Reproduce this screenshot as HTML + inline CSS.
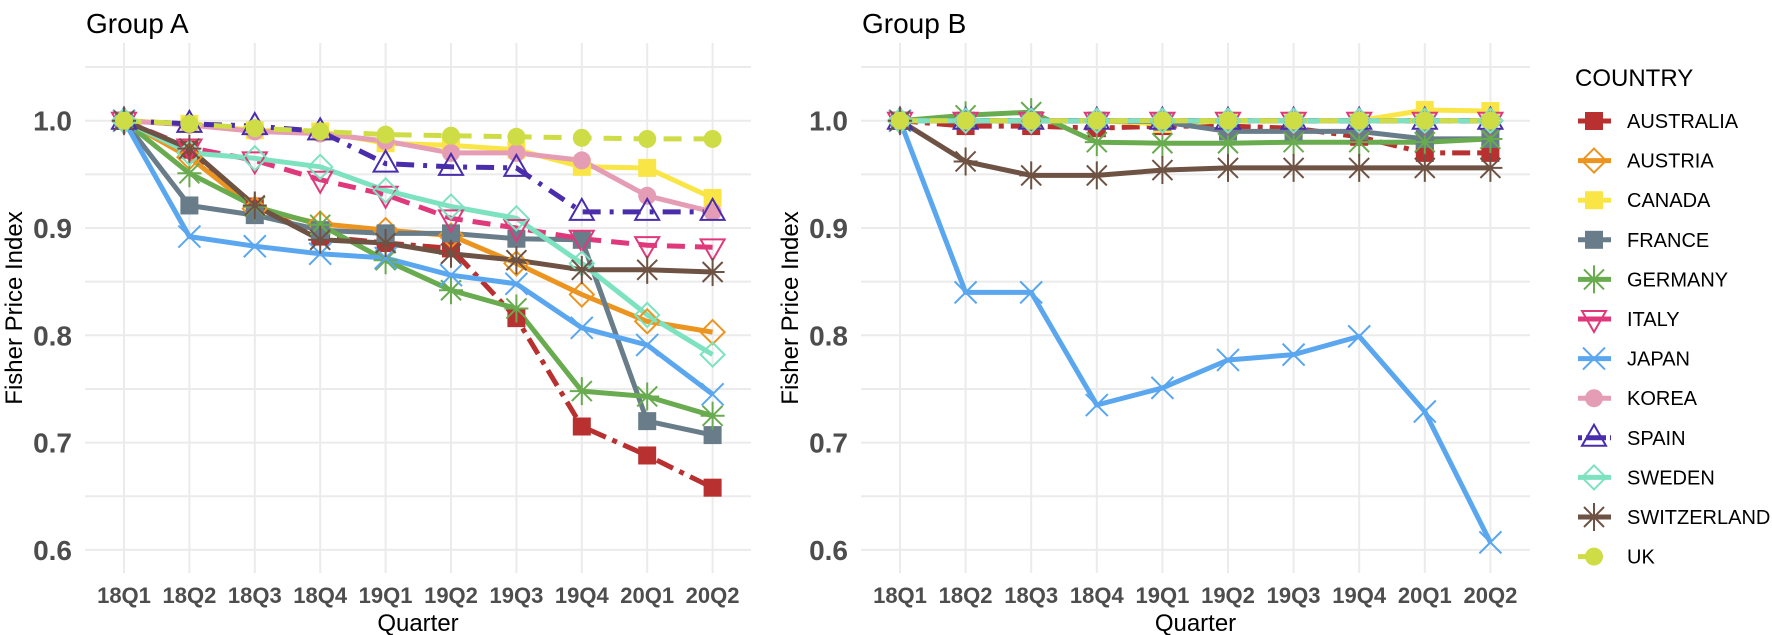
<!DOCTYPE html>
<html><head><meta charset="utf-8"><style>
html,body{margin:0;padding:0;background:#fff;}
svg{display:block;font-family:"Liberation Sans",sans-serif;}
</style></head><body>
<svg id="s" width="1772" height="635" viewBox="0 0 1772 635" xmlns="http://www.w3.org/2000/svg"></svg>
<script>
const S=document.getElementById('s');let h='';
const Y=v=>120.7+(1-v)*1073;
const Q=['18Q1','18Q2','18Q3','18Q4','19Q1','19Q2','19Q3','19Q4','20Q1','20Q2'];
const C={AUSTRALIA:['#B8302F','sq','18 7 5 7'],AUSTRIA:['#EB9520','dia',''],CANADA:['#F9E646','sq',''],FRANCE:['#687C8A','sq',''],GERMANY:['#69AB4F','ast',''],ITALY:['#E0397B','tri_d','18 10'],JAPAN:['#5AA7F0','x',''],KOREA:['#E59CB5','circ',''],SPAIN:['#4A2DAA','tri','18 9 4 9'],SWEDEN:['#7DE2BF','dia',''],SWITZERLAND:['#6E5243','ast',''],UK:['#CEDC45','circ','18 12']};
const A={AUSTRALIA:[1,.973,.92,.892,.886,.881,.816,.715,.688,.658],
AUSTRIA:[1,.966,.918,.904,.898,.893,.867,.838,.813,.803],
CANADA:[1,.997,.991,.99,.979,.977,.973,.957,.956,.928],
FRANCE:[1,.921,.912,.898,.895,.895,.89,.889,.72,.707],
GERMANY:[1,.951,.92,.903,.87,.842,.825,.748,.743,.725],
ITALY:[1,.975,.963,.945,.931,.909,.9,.89,.884,.882],
JAPAN:[1,.892,.883,.876,.872,.856,.848,.807,.791,.745],
KOREA:[1,.996,.99,.988,.981,.97,.97,.963,.93,.915],
SPAIN:[1,.997,.995,.99,.96,.957,.956,.915,.915,.915],
SWEDEN:[1,.97,.965,.957,.935,.92,.909,.867,.819,.782],
SWITZERLAND:[1,.974,.921,.889,.886,.876,.87,.861,.861,.859],
UK:[1,.997,.993,.99,.987,.986,.985,.984,.983,.983]};
const B={AUSTRALIA:[1,.995,.995,.993,.995,.995,.993,.985,.97,.97],
AUSTRIA:[1,1,1,1,1,1,1,1,1,1],
CANADA:[1,1,1,1,.997,1,1,1,1.01,1.009],
FRANCE:[1,1,1,1,.999,.99,.99,.99,.983,.983],
GERMANY:[1,1.005,1.008,.98,.979,.979,.98,.98,.98,.983],
ITALY:[1,1,1,1,1,1,1,1,1,1],
JAPAN:[1,.84,.84,.735,.751,.777,.782,.799,.729,.607],
KOREA:[1,1,1,1,1,1,1,1,1,1],
SPAIN:[1,1,1,1,1,1,1,1,1,1],
SWEDEN:[1,1,1,1,1,1,1,1,1,1],
SWITZERLAND:[1,.962,.949,.949,.954,.956,.956,.956,.956,.956],
UK:[1,1,1,1,1,1,1,1,1,1]};
function mk(t,x,y,c){const r=9;
 switch(t){
 case 'sq':return `<rect x="${x-r}" y="${y-r}" width="${2*r}" height="${2*r}" fill="${c}"/>`;
 case 'dia':return `<polygon points="${x},${y-12} ${x+12},${y} ${x},${y+12} ${x-12},${y}" fill="none" stroke="${c}" stroke-width="2"/>`;
 case 'circ':return `<circle cx="${x}" cy="${y}" r="9" fill="${c}"/>`;
 case 'tri':return `<polygon points="${x},${y-13} ${x+12},${y+8} ${x-12},${y+8}" fill="none" stroke="${c}" stroke-width="2"/>`;
 case 'tri_d':return `<polygon points="${x},${y+13} ${x+12},${y-8} ${x-12},${y-8}" fill="none" stroke="${c}" stroke-width="2"/>`;
 case 'x':return `<path d="M${x-11} ${y-11}L${x+11} ${y+11}M${x-11} ${y+11}L${x+11} ${y-11}" stroke="${c}" stroke-width="2"/>`;
 case 'ast':return `<path d="M${x-12} ${y}H${x+12}M${x} ${y-14}V${y+14}M${x-10} ${y-10}L${x+10} ${y+10}M${x-10} ${y+10}L${x+10} ${y-10}" stroke="${c}" stroke-width="2"/>`;
 }}
function panel(x0,x1,fx,D,title,tickR,ylx){
 for(let v=1.05;v>0.57;v-=0.05){const y=Y(v);h+=`<line x1="${x0}" x2="${x1}" y1="${y}" y2="${y}" stroke="#ebebeb" stroke-width="2"/>`;}
 for(let i=0;i<10;i++){const x=fx(i);h+=`<line x1="${x}" x2="${x}" y1="43" y2="573" stroke="#ebebeb" stroke-width="2"/>`;
  h+=`<text x="${x}" y="603" font-size="22" font-weight="bold" fill="#4d4d4d" text-anchor="middle">${Q[i]}</text>`;}
 ['1.0','0.9','0.8','0.7','0.6'].forEach(t=>{h+=`<text x="${tickR}" y="${Y(+t)+10}" font-size="28" font-weight="bold" fill="#4d4d4d" text-anchor="end">${t}</text>`;});
 h+=`<text x="${x0+1}" y="33" font-size="28" fill="#000">${title}</text>`;
 h+=`<text x="${(x0+x1)/2}" y="631" font-size="24" fill="#000" text-anchor="middle">Quarter</text>`;
 h+=`<text transform="translate(${ylx},308) rotate(-90)" font-size="24" fill="#000" text-anchor="middle">Fisher Price Index</text>`;
 for(const k in C){const [c,,d]=C[k];const p=D[k].map((v,i)=>fx(i).toFixed(1)+','+Y(v).toFixed(1)).join(' ');
  h+=`<polyline points="${p}" fill="none" stroke="${c}" stroke-width="5" stroke-linejoin="round" ${d?`stroke-dasharray="${d}"`:''}/>`;}
 for(const k in C){const [c,t]=C[k];D[k].forEach((v,i)=>{h+=mk(t,fx(i),Y(v),c);});}
}
panel(85,751,i=>124+65.4*i,A,'Group A',72,22);
panel(861,1530,i=>900+65.6*i,B,'Group B',848,798);
h+=`<text x="1575" y="86" font-size="24" fill="#000">COUNTRY</text>`;
Object.keys(C).forEach((k,j)=>{const [c,t,d]=C[k];const y=121+39.6*j;
 h+=`<line x1="1578" x2="1611" y1="${y}" y2="${y}" stroke="${c}" stroke-width="5" ${d?`stroke-dasharray="${d==='18 7 5 7'?'40':d==='18 10'?'40':d==='18 12'?'24 40':'4 4 20'}"`:''}/>`;
 h+=mk(t,1594,y,c);
 h+=`<text x="1627" y="${y+7}" font-size="20" fill="#000">${k}</text>`;});
S.innerHTML=h;
</script>
</body></html>
